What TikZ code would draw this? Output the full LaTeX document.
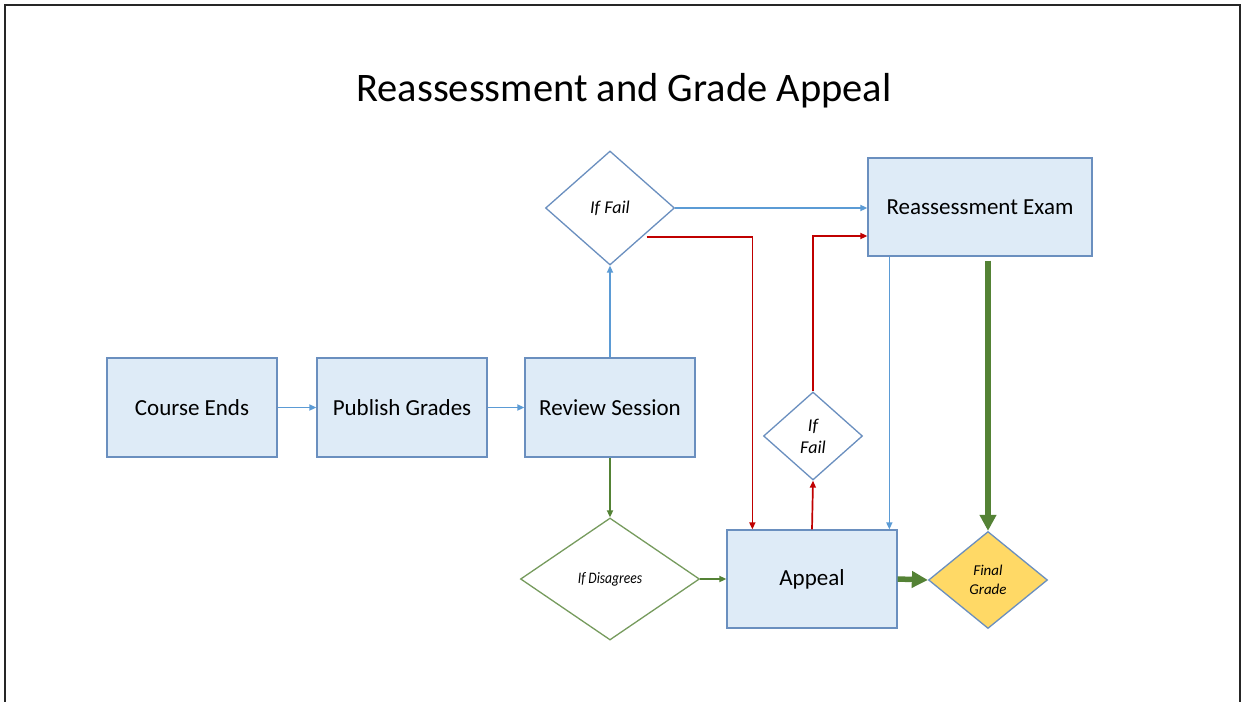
\documentclass[tikz,border=0pt]{standalone}
\usepackage{fontspec}
\setmainfont{Carlito}
\usetikzlibrary{shapes.geometric,arrows.meta}
\definecolor{boxfill}{HTML}{DEEBF7}
\definecolor{boxline}{HTML}{6A8FBF}
\definecolor{arblue}{HTML}{5B9BD5}
\definecolor{arred}{HTML}{C00000}
\definecolor{argreen}{HTML}{548235}
\definecolor{gold}{HTML}{FFD966}
\tikzset{
  box/.style={draw=boxline, fill=boxfill, line width=1.3pt, minimum width=170pt, minimum height=99pt, inner sep=0pt, font=\fontsize{23}{27}\selectfont},
  dia/.style={diamond, draw=boxline, fill=white, line width=1.3pt, aspect=1, inner sep=0pt, font=\fontsize{18}{21}\selectfont\itshape},
  conn/.style={line width=1.7pt, -{Triangle[length=7pt,width=6pt]}},
  bigconn/.style={line width=5.5pt, -{Triangle[length=16pt,width=16pt]}},
}
\begin{document}
\begin{tikzpicture}[x=1pt,y=-1pt]
\useasboundingbox (0,0) rectangle (1244,701);
\fill[white] (0,0) rectangle (1244,701);
\draw[line width=2pt, black!85] (5,702) -- (5,5) -- (1240,5) -- (1240,702);
\node[font=\fontsize{40.5}{48}\selectfont] (title) at (624,91) {Reassessment and Grade Appeal};

\node[box] (course) at (192,407.5) {Course Ends};
\node[box] (publish) at (402,407.5) {Publish Grades};
\node[box] (review) at (610,407.5) {Review Session};
\node[box, minimum width=224pt, minimum height=98pt] (reassess) at (980,207) {Reassessment Exam};
\node[box, minimum height=98pt] (appeal) at (812,579) {Appeal};

\node[dia, minimum width=129pt, minimum height=114pt] (iff) at (610,208) {If Fail};
\node[dia, minimum width=99pt, minimum height=88pt, align=center, font=\fontsize{18}{22}\selectfont\itshape] (iff2) at (813,436) {If\\Fail};
\node[dia, draw=argreen!80!white, minimum width=179pt, minimum height=122pt, font=\fontsize{16}{19}\selectfont\itshape] (disagree) at (610,579) {\addfontfeature{FakeStretch=0.85}If Disagrees};
\node[dia, fill=gold, minimum width=119pt, minimum height=97pt, align=center, font=\fontsize{15}{19}\selectfont\itshape] (final) at (988,580) {Final\\Grade};

\draw[conn, arblue] (course) -- (publish);
\draw[conn, arblue] (publish) -- (review);
\draw[conn, arblue] (review) -- (iff);
\draw[conn, arblue] (iff.east) -- (iff.east -| reassess.west);
\draw[conn, arred] ([xshift=4pt]iff.south east) -| ([xshift=26pt]appeal.north west);
\draw[conn, arred] (appeal.north) -- (iff2.south);
\draw[conn, arred] (iff2.north) |- ([yshift=-29pt]reassess.west);
\draw[conn, arblue] ([xshift=22pt]reassess.south west) -- ([xshift=22pt]reassess.south west |- appeal.north);
\draw[conn, argreen] (review) -- (disagree);
\draw[conn, argreen] (disagree) -- (appeal);
\draw[bigconn, argreen] (reassess.south -| final.north) ++(0,4) -- (final.north);
\draw[bigconn, argreen] (appeal.east) -- (final.west);
\end{tikzpicture}
\end{document}
